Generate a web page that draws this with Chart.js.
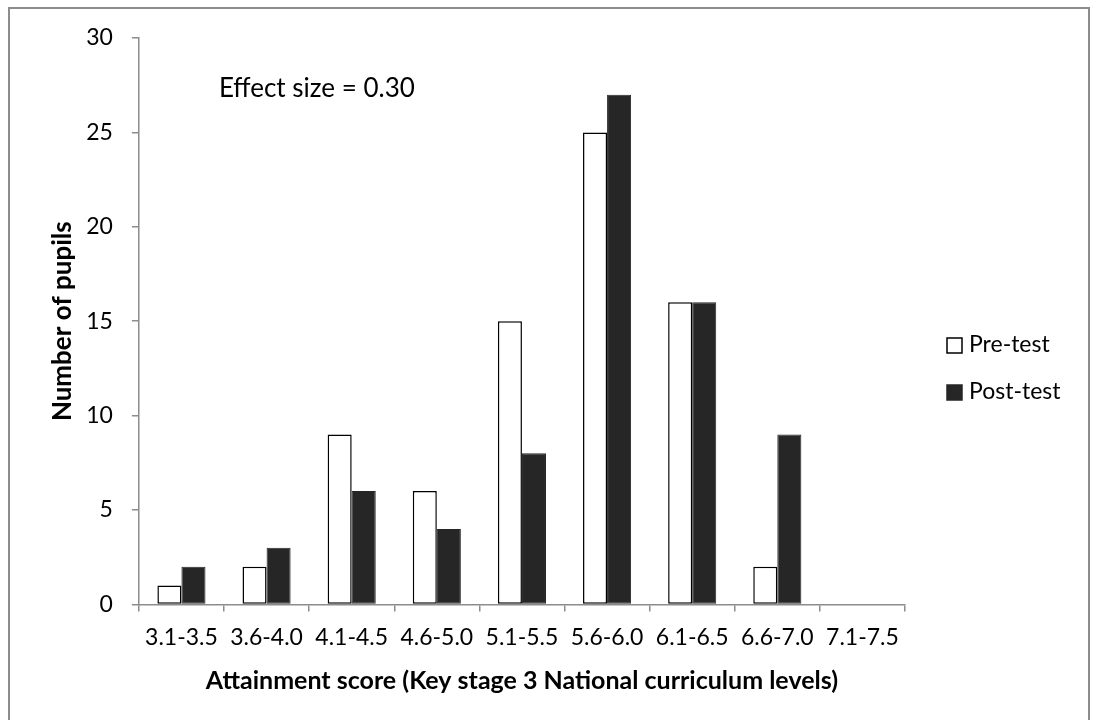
<!DOCTYPE html>
<html>
<head>
<meta charset="utf-8">
<script src="https://cdn.jsdelivr.net/npm/chart.js@4.4.1/dist/chart.umd.min.js"></script>
<style>
  html, body { margin: 0; padding: 0; background: #fff; overflow: hidden; }
  #wrap { position: relative; width: 1096px; height: 720px; }
  #frame { position: absolute; left: 8px; top: 7px; width: 1082px; height: 800px; border: 2px solid #8c8c8c; box-sizing: border-box; }
  canvas { position: absolute; left: 0; top: 0; }
</style>
</head>
<body>
<div id="wrap">
  <div id="frame"></div>
  <canvas id="chart" width="1096" height="720"></canvas>
</div>
<script>
// categories and values
const ranges = ['3.1-3.5', '3.6-4.0', '4.1-4.5', '4.6-5.0', '5.1-5.5', '5.6-6.0', '6.1-6.5', '6.6-7.0', '7.1-7.5'];
const preTest = [1, 2, 9, 6, 15, 25, 16, 2, 0];
const postTest = [2, 3, 6, 4, 8, 27, 16, 9, 0];
const seriesNames = ['Pre-test', 'Post-test'];
const yTicks = [0, 5, 10, 15, 20, 25, 30];
const effectNote = 'Effect size = 0.30';

const FONT = 'Lato';
const AXIS_GREY = '#8c8c8c';

// legend on the right, two square swatches
const sideLegend = {
  id: 'sideLegend',
  afterDraw(chart) {
    const { ctx, chartArea } = chart;
    ctx.save();
    ctx.font = `23px ${FONT}`;
    ctx.textBaseline = 'middle';
    chart.data.datasets.forEach((ds, i) => {
      const x = chartArea.right + 42;
      const y = chartArea.top + 307 + i * 47;
      ctx.fillStyle = ds.backgroundColor;
      ctx.fillRect(x, y - 7, 15, 15);
      ctx.lineWidth = 1.5;
      ctx.strokeStyle = ds.borderColor;
      ctx.strokeRect(x, y - 7, 15, 15);
      ctx.fillStyle = '#000';
      ctx.fillText(ds.label, x + 22, y);
    });
    ctx.restore();
  }
};

// "Effect size" note in the upper left of the plot
const effectLabel = {
  id: 'effectLabel',
  afterDraw(chart) {
    const { ctx, chartArea } = chart;
    ctx.save();
    ctx.font = `26px ${FONT}`;
    ctx.textBaseline = 'middle';
    ctx.fillStyle = '#000';
    ctx.fillText(effectNote, chartArea.left + 80, chart.scales.y.getPixelForValue(27.3));
    ctx.restore();
  }
};

new Chart(document.getElementById('chart').getContext('2d'), {
  type: 'bar',
  data: {
    labels: ranges,
    datasets: [
      { label: seriesNames[0], data: preTest, backgroundColor: '#ffffff', borderColor: '#000000', borderWidth: 1.5, borderSkipped: false },
      { label: seriesNames[1], data: postTest, backgroundColor: '#262626', borderColor: '#262626', borderWidth: 1, borderSkipped: false }
    ]
  },
  options: {
    responsive: false,
    animation: false,
    devicePixelRatio: 1,
    datasets: { bar: { categoryPercentage: 0.565, barPercentage: 1.0 } },
    layout: { padding: { left: 44, right: 191, top: 38, bottom: 20 } },
    plugins: {
      legend: { display: false },
      tooltip: { enabled: false }
    },
    scales: {
      x: {
        grid: { display: true, drawOnChartArea: false, drawTicks: true, tickLength: 7, color: AXIS_GREY, lineWidth: 1.5, offset: true },
        border: { display: true, color: AXIS_GREY, width: 1.5 },
        ticks: { font: { family: FONT, size: 23 }, color: '#000', padding: 12, maxRotation: 0, autoSkip: false },
        title: { display: true, text: 'Attainment score (Key stage 3 National curriculum levels)', font: { family: FONT, size: 25, weight: 'bold' }, color: '#000', padding: { top: 3, bottom: 4 } }
      },
      y: {
        min: 0,
        max: 30,
        afterBuildTicks: axis => { axis.ticks = yTicks.map(v => ({ value: v })); },
        grid: { display: true, drawOnChartArea: false, drawTicks: true, tickLength: 7, color: AXIS_GREY, lineWidth: 1.5 },
        border: { display: true, color: AXIS_GREY, width: 1.5 },
        ticks: { font: { family: FONT, size: 23 }, color: '#000', padding: 19 },
        title: { display: true, text: 'Number of pupils', font: { family: FONT, size: 26, weight: 'bold' }, color: '#000', padding: { top: 3, bottom: -11 } }
      }
    }
  },
  plugins: [sideLegend, effectLabel]
});
</script>
</body>
</html>
